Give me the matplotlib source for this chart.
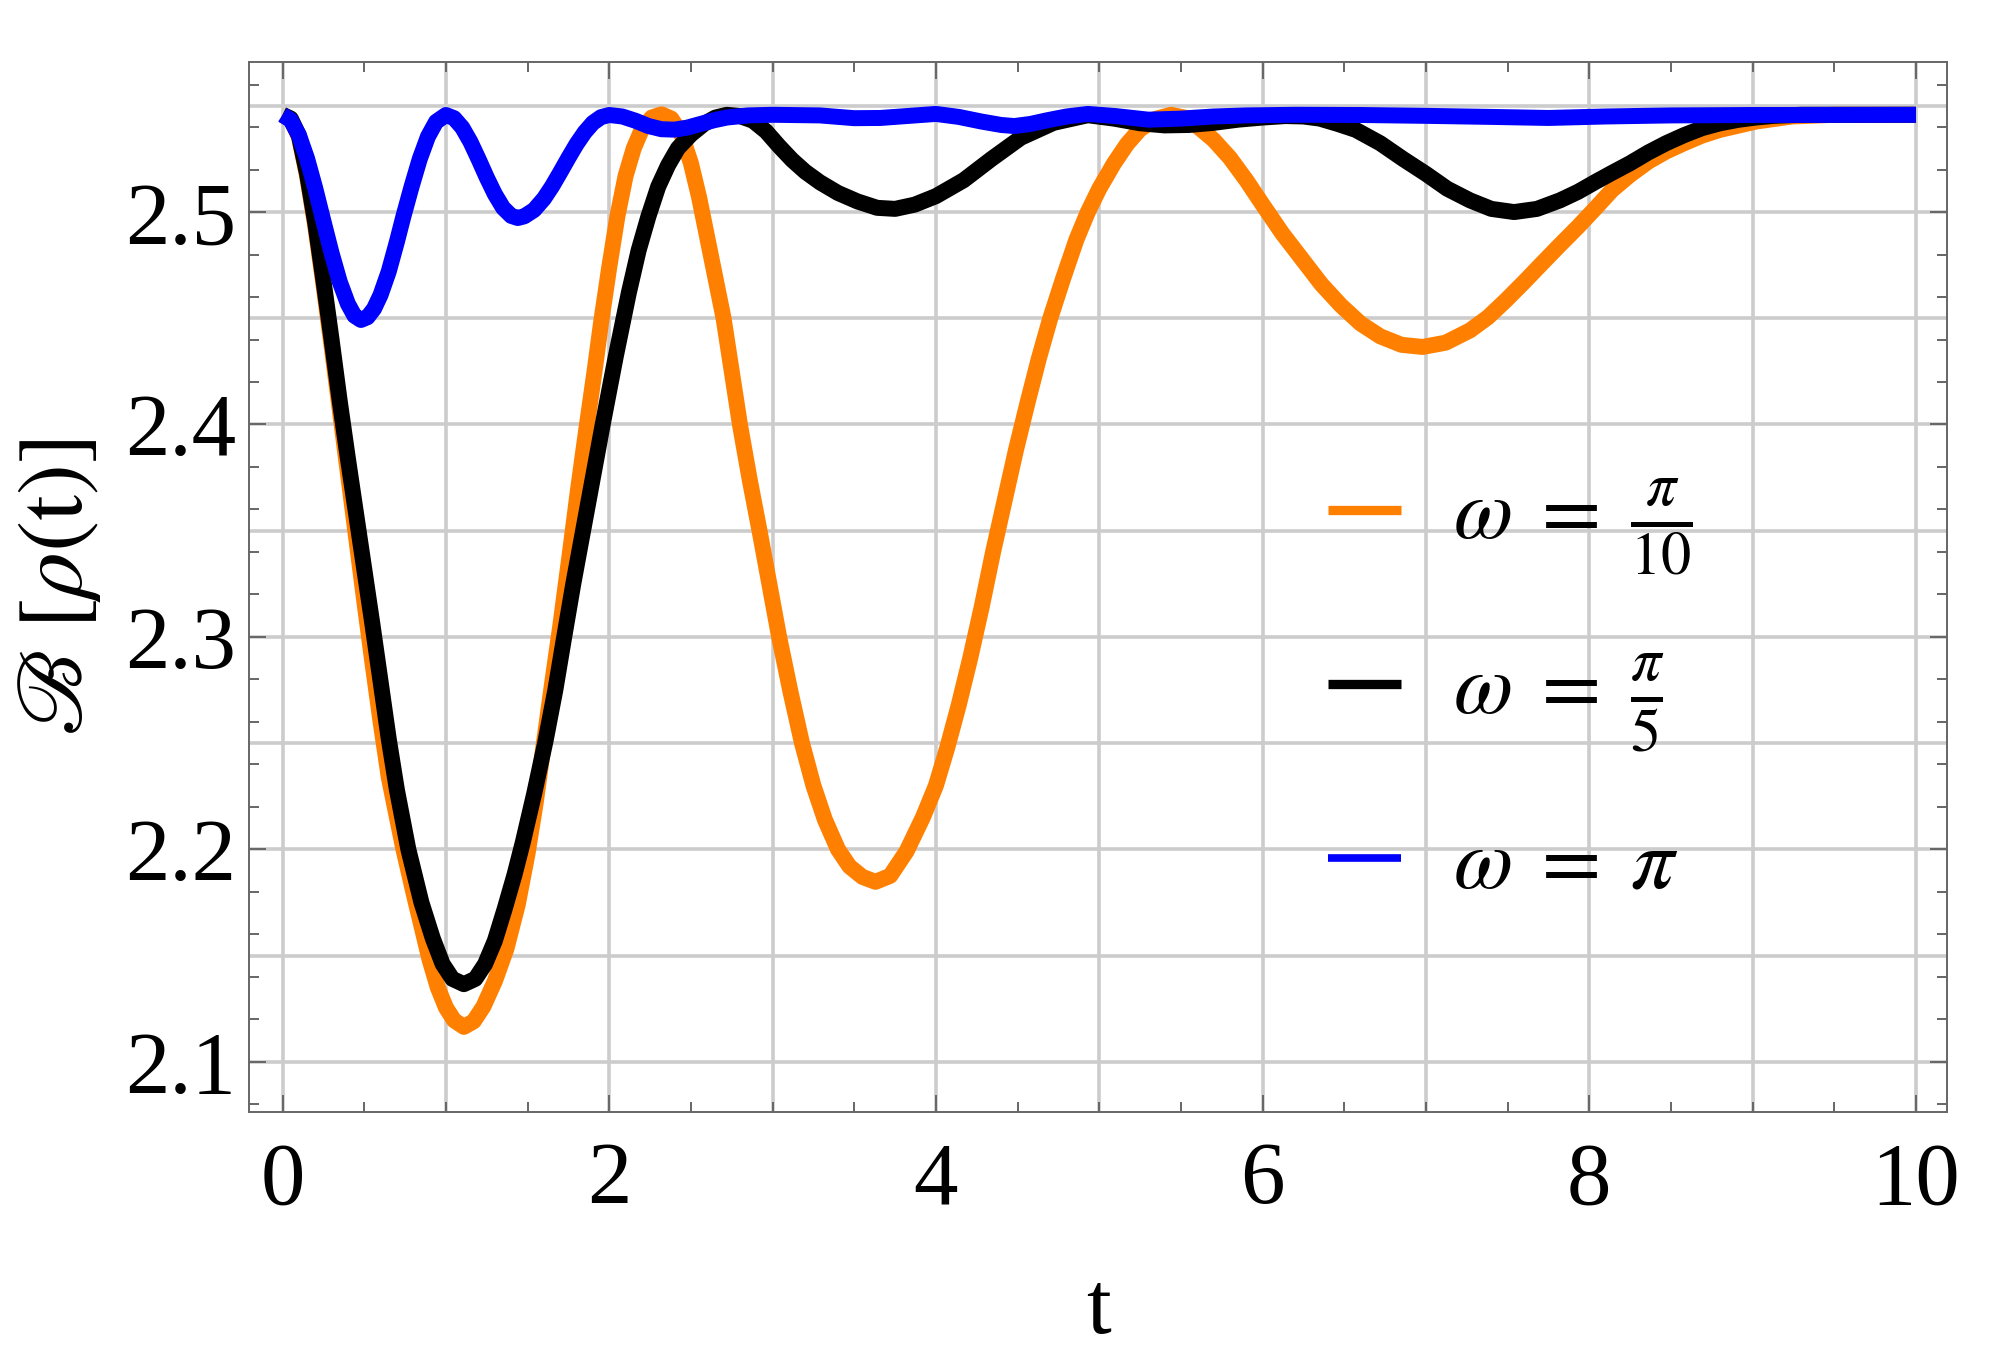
import numpy as np
import matplotlib
matplotlib.use('Agg')
import matplotlib.pyplot as plt

plt.rcParams['font.family'] = ['Liberation Serif', 'DejaVu Serif']
plt.rcParams['mathtext.fontset'] = 'stix'

# omega = pi/10 (orange)
t_orange = [0.00, 0.05, 0.10, 0.15, 0.20, 0.25, 0.30, 0.35, 0.40, 0.45, 0.50, 0.55,
            0.60, 0.65, 0.70, 0.74, 0.80, 0.85, 0.90, 0.95, 1.00, 1.05, 1.11, 1.17,
            1.23, 1.30, 1.37, 1.44, 1.50, 1.55, 1.60, 1.65, 1.70, 1.76, 1.81, 1.86,
            1.91, 1.95, 2.00, 2.05, 2.10, 2.15, 2.20, 2.26, 2.32, 2.38, 2.44, 2.50,
            2.55, 2.60, 2.65, 2.70, 2.75, 2.80, 2.86, 2.92, 2.98, 3.04, 3.11, 3.18,
            3.25, 3.32, 3.40, 3.47, 3.55, 3.63, 3.72, 3.82, 3.92, 4.00, 4.07, 4.14,
            4.21, 4.28, 4.35, 4.42, 4.49, 4.56, 4.63, 4.70, 4.78, 4.86, 4.93, 5.00,
            5.09, 5.17, 5.25, 5.35, 5.44, 5.52, 5.60, 5.70, 5.80, 5.90, 6.00, 6.12,
            6.24, 6.36, 6.48, 6.60, 6.72, 6.85, 6.98, 7.12, 7.27, 7.38, 7.49, 7.60,
            7.71, 7.82, 7.93, 8.04, 8.14, 8.25, 8.36, 8.47, 8.58, 8.69, 8.80, 9.02,
            9.24, 9.50, 10.0]
b_orange = [2.5458, 2.5438, 2.5355, 2.5170, 2.4935, 2.4660, 2.4370, 2.4070, 2.3770, 2.3470, 2.3170, 2.2880,
            2.2600, 2.2340, 2.2150, 2.2000, 2.1800, 2.1640, 2.1480, 2.1350, 2.1255, 2.1195, 2.1164, 2.1190,
            2.1260, 2.1380, 2.1530, 2.1740, 2.1980, 2.2220, 2.2500, 2.2780, 2.3050, 2.3400, 2.3700, 2.3980,
            2.4250, 2.4480, 2.4740, 2.4980, 2.5170, 2.5300, 2.5390, 2.5445, 2.5460, 2.5440, 2.5370, 2.5230,
            2.5070, 2.4880, 2.4690, 2.4500, 2.4250, 2.4000, 2.3740, 2.3500, 2.3250, 2.3000, 2.2740, 2.2500,
            2.2300, 2.2140, 2.2000, 2.1920, 2.1870, 2.1847, 2.1875, 2.1990, 2.2150, 2.2300, 2.2480, 2.2680,
            2.2900, 2.3140, 2.3400, 2.3640, 2.3880, 2.4100, 2.4310, 2.4500, 2.4690, 2.4870, 2.5000, 2.5110,
            2.5229, 2.5320, 2.5390, 2.5440, 2.5458, 2.5445, 2.5405, 2.5340, 2.5255, 2.5150, 2.5035, 2.4900,
            2.4780, 2.4660, 2.4560, 2.4475, 2.4415, 2.4375, 2.4365, 2.4385, 2.4443, 2.4505, 2.4585, 2.4670,
            2.4758, 2.4845, 2.4930, 2.5020, 2.5104, 2.5175, 2.5237, 2.5285, 2.5324, 2.5360, 2.5387, 2.5426,
            2.5450, 2.5458, 2.5458]

# omega = pi/5 (black)
t_black = [0.00, 0.05, 0.10, 0.15, 0.20, 0.25, 0.30, 0.35, 0.40, 0.45, 0.50, 0.55,
           0.60, 0.65, 0.70, 0.77, 0.85, 0.92, 0.98, 1.04, 1.11, 1.18, 1.24, 1.30,
           1.36, 1.42, 1.47, 1.54, 1.61, 1.67, 1.72, 1.78, 1.84, 1.90, 1.96, 2.04,
           2.12, 2.18, 2.24, 2.30, 2.36, 2.42, 2.50, 2.58, 2.65, 2.72, 2.80, 2.88,
           2.96, 3.04, 3.12, 3.20, 3.29, 3.40, 3.52, 3.64, 3.75, 3.87, 4.00, 4.17,
           4.34, 4.52, 4.72, 4.93, 5.09, 5.25, 5.40, 5.55, 5.70, 5.85, 6.00, 6.14,
           6.25, 6.35, 6.46, 6.57, 6.72, 6.86, 7.00, 7.13, 7.27, 7.40, 7.54, 7.68,
           7.82, 7.93, 8.04, 8.14, 8.25, 8.36, 8.47, 8.58, 8.69, 8.80, 8.91, 9.02,
           9.13, 9.30, 10.0]
b_black = [2.5458, 2.5440, 2.5360, 2.5180, 2.4950, 2.4680, 2.4400, 2.4110, 2.3840, 2.3580, 2.3320, 2.3060,
           2.2790, 2.2520, 2.2280, 2.2000, 2.1750, 2.1580, 2.1460, 2.1390, 2.1365, 2.1390, 2.1460, 2.1570,
           2.1720, 2.1880, 2.2030, 2.2260, 2.2510, 2.2750, 2.2980, 2.3250, 2.3500, 2.3750, 2.4000, 2.4320,
           2.4620, 2.4820, 2.4980, 2.5120, 2.5220, 2.5300, 2.5365, 2.5415, 2.5445, 2.5458, 2.5452, 2.5430,
           2.5380, 2.5310, 2.5245, 2.5190, 2.5140, 2.5090, 2.5050, 2.5020, 2.5015, 2.5035, 2.5075, 2.5150,
           2.5250, 2.5350, 2.5420, 2.5456, 2.5440, 2.5418, 2.5408, 2.5410, 2.5420, 2.5435, 2.5445, 2.5452,
           2.5450, 2.5440, 2.5415, 2.5387, 2.5324, 2.5250, 2.5180, 2.5110, 2.5055, 2.5015, 2.5000, 2.5015,
           2.5055, 2.5095, 2.5143, 2.5185, 2.5230, 2.5280, 2.5324, 2.5362, 2.5395, 2.5418, 2.5434, 2.5445,
           2.5453, 2.5458, 2.5458]

# omega = pi (blue)
t_blue = [0.00, 0.05, 0.10, 0.15, 0.20, 0.25, 0.30, 0.35, 0.40, 0.44, 0.48, 0.52,
          0.56, 0.60, 0.65, 0.70, 0.74, 0.79, 0.84, 0.89, 0.94, 1.00, 1.05, 1.10,
          1.15, 1.20, 1.25, 1.30, 1.35, 1.40, 1.44, 1.48, 1.54, 1.60, 1.65, 1.70,
          1.75, 1.80, 1.85, 1.90, 1.95, 2.00, 2.08, 2.16, 2.24, 2.32, 2.40, 2.48,
          2.56, 2.64, 2.72, 2.85, 3.00, 3.29, 3.50, 3.66, 3.82, 4.00, 4.14, 4.28,
          4.40, 4.48, 4.58, 4.68, 4.80, 4.93, 5.10, 5.30, 5.50, 5.70, 5.90, 6.20,
          6.60, 7.00, 7.40, 7.75, 8.10, 8.50, 9.00, 10.0]
b_blue = [2.5458, 2.5433, 2.5362, 2.5252, 2.5112, 2.4958, 2.4807, 2.4672, 2.4568, 2.4512, 2.4492, 2.4505,
          2.4545, 2.4610, 2.4720, 2.4860, 2.4980, 2.5120, 2.5250, 2.5355, 2.5425, 2.5457, 2.5442, 2.5398,
          2.5331, 2.5249, 2.5163, 2.5084, 2.5020, 2.4982, 2.4972, 2.4980, 2.5010, 2.5063, 2.5121, 2.5187,
          2.5255, 2.5320, 2.5376, 2.5420, 2.5447, 2.5457, 2.5450, 2.5430, 2.5405, 2.5390, 2.5388, 2.5398,
          2.5415, 2.5432, 2.5445, 2.5455, 2.5458, 2.5455, 2.5442, 2.5443, 2.5452, 2.5462, 2.5448, 2.5426,
          2.5410, 2.5405, 2.5415, 2.5432, 2.5450, 2.5462, 2.5452, 2.5435, 2.5440, 2.5450, 2.5455, 2.5458,
          2.5457, 2.5453, 2.5448, 2.5443, 2.5450, 2.5455, 2.5457, 2.5458]

labels = [r'$\omega\;=\;\frac{\pi}{10}$', r'$\omega\;=\;\frac{\pi}{5}$', r'$\omega\;=\;\pi$']
colors = ['#FF8000', 'black', '#0000FF']

x_ticks = [0, 2, 4, 6, 8, 10]
y_ticks = [2.1, 2.2, 2.3, 2.4, 2.5]
x_grid = [0, 1, 2, 3, 4, 5, 6, 7, 8, 9, 10]
y_grid = [2.10, 2.15, 2.20, 2.25, 2.30, 2.35, 2.40, 2.45, 2.50, 2.55]

fig = plt.figure(figsize=(19.91, 13.68), dpi=100)
ax = fig.add_axes([0.1251, 0.1871, 0.8528, 0.7675])

# grid lines (every 1 in t, every 0.05 in B)
for g in x_grid:
  ax.axvline(g, color='#cccccc', lw=2.6, zorder=0)
for g in y_grid:
  ax.axhline(g, color='#cccccc', lw=2.6, zorder=0)

series = [(t_orange, b_orange), (t_black, b_black), (t_blue, b_blue)]
for (t, b), c, lab in zip(series, colors, labels):
  ax.plot(t, b, color=c, lw=11.5, label=lab, solid_joinstyle='round', solid_capstyle='butt')

ax.set_xlim(-0.205, 10.19)
ax.set_ylim(2.0763, 2.5706)
ax.set_xticks(x_ticks)
ax.set_xticks(np.arange(0, 10.01, 0.5), minor=True)
ax.set_yticks(y_ticks)
ax.set_yticks(np.arange(2.08, 2.561, 0.02), minor=True)
ax.set_xticklabels([str(v) for v in x_ticks])
ax.set_yticklabels([f'{v:.1f}' for v in y_ticks])

ax.tick_params(which='both', direction='in', top=True, right=True, colors='#666666',
               labelcolor='black', labelsize=64, width=1.4)
ax.tick_params(which='major', length=12)
ax.tick_params(which='minor', length=7)
ax.tick_params(axis='x', pad=21)
ax.tick_params(axis='y', pad=9)
for s in ax.spines.values():
  s.set_color('#666666')
  s.set_linewidth(1.4)

ax.set_xlabel('t', fontsize=64, labelpad=35)
ax.set_ylabel(r'$\mathscr{B}\;[\rho(\mathrm{t})]$', fontsize=67, labelpad=16)

leg = ax.legend(frameon=False, fontsize=62, loc='center left', bbox_to_anchor=(0.61, 0.40),
                handlelength=0.85, handletextpad=0.6, labelspacing=0.84, borderpad=0)
for ln, w in zip(leg.get_lines(), [6.7, 6.7, 5.5]):
  ln.set_linewidth(w)

fig.savefig('out.png', dpi=100)
